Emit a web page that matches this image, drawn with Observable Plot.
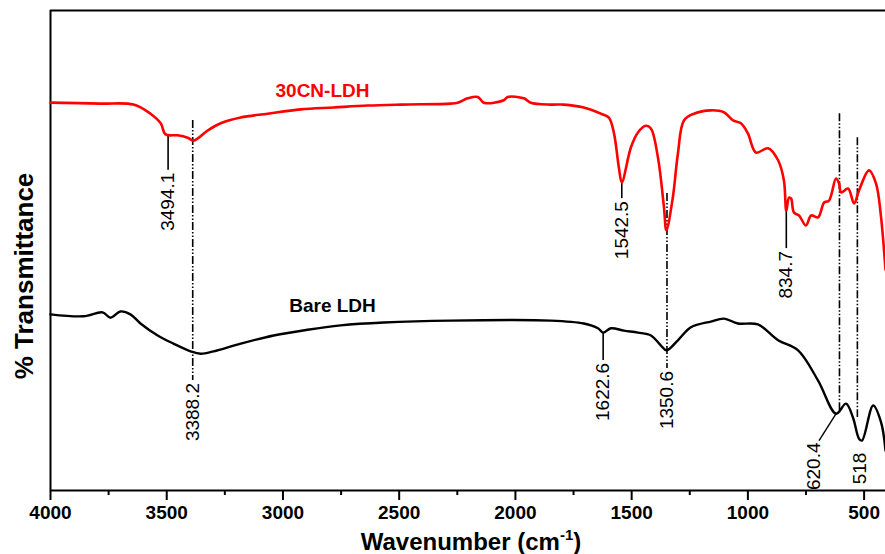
<!DOCTYPE html>
<html><head><meta charset="utf-8">
<script src="https://cdn.jsdelivr.net/npm/d3@7"></script>
<script src="https://cdn.jsdelivr.net/npm/@observablehq/plot@0.6"></script>
<style>body{margin:0;background:#fff} svg{display:block}</style>
</head><body><div id="chart"></div>
<script>
// 30CN-LDH spectrum (wavenumber, % transmittance, arbitrary offset)
const redWavenumber = [4000,3785,3643,3570,3526,3505,3453,3410,3384,3324,3268,3182,3066,2924,2782,2635,2493,2278,2248,2205,2162,2136,2050,2033,1964,1934,1848,1792,1706,1632,1598,1576,1555,1542.5,1503,1473,1439,1417,1387,1361,1350.6,1323,1301,1275,1232,1159,1103,1064,1030,1000,965,913,870,845,834.7,823,814,802,780,750,728,698,672,651,621,608,599,569,543,522,479,449,427,408];
const redTransmittance = [80.8,80.6,80.4,78.5,76.5,74.2,74.0,73.5,72.9,75.0,76.5,77.7,78.5,79.4,79.8,80.2,80.4,80.6,80.8,81.7,82.0,80.8,81.3,82.0,81.7,80.8,80.4,80.4,79.8,78.5,77.7,74.4,67.3,64.2,71.5,74.6,76.0,75.4,69.4,59.0,54.2,61.0,70.2,77.1,78.5,79.2,78.8,77.1,76.5,74.4,70.4,71.3,68.8,64.6,58.3,61.0,60.8,57.9,57.3,55.2,57.3,56.9,60.0,60.4,65.0,64.0,62.1,62.9,59.8,62.5,66.7,64.0,56.9,46];
// Bare LDH spectrum
const blackWavenumber = [4000,3858,3776,3742,3699,3656,3613,3539,3471,3397,3354,3298,3182,3040,2894,2752,2566,2278,1848,1706,1645,1622.6,1589,1533,1473,1417,1374,1350.6,1301,1245,1159,1103,1043,957,870,784,698,620.4,578,548,522,509,461,427,408];
const blackTransmittance = [36.7,36.3,37.1,36.0,37.3,36.7,34.8,32.3,30.6,29.0,28.5,29.0,30.6,32.3,33.5,34.4,35.0,35.4,35.4,34.8,33.8,32.9,33.8,33.3,32.9,32.3,30.2,29.2,31.3,34.0,35.2,35.8,34.8,34.6,31.3,29.2,22.9,16.0,18.1,15.2,10.8,10.4,17.7,14.2,8.3];

// Peak annotations with solid leader lines
const solidPeakLabels = ["3494.1","1542.5","834.7","1622.6"];
const solidPeakX = [3494.1,1542.5,834.7,1622.6];
const solidPeakTop = [74.0,64.2,58.3,32.9];
const solidPeakBottom = [66.7,60.8,50.4,27.1];
// Dash-dot reference lines
const dashLabels = ["3388.2","1350.6","",""];
const dashX = [3388.2,1348,606,529];
const dashTop = [77.1,61.9,78.5,73.5];
const dashBottom = [22.9,25.4,16.3,15.2];
// Labels with leader offset
const extraLabels = ["620.4","518"];
const extraLabelX = [714,518];
const extraLabelY = [10.0,7.9];
const connectorFrom = [620.4,16.0];
const connectorTo = [694,10.4];

const seriesNames = ["30CN-LDH","Bare LDH"];
const seriesColors = ["#ff0000","#000000"];
const seriesLabelX = [2830,2787];
const seriesLabelY = [83.3,38.5];

const xTicks = [4000,3500,3000,2500,2000,1500,1000,500];
const xMinorTicks = [3750,3250,2750,2250,1750,1250,750];

const red = redWavenumber.map((w,i)=>({w, t: redTransmittance[i]}));
const black = blackWavenumber.map((w,i)=>({w, t: blackTransmittance[i]}));
const solid = solidPeakLabels.map((l,i)=>({l, x: solidPeakX[i], y1: solidPeakTop[i], y2: solidPeakBottom[i]}));
const dash = dashX.map((x,i)=>({l: dashLabels[i], x, y1: dashTop[i], y2: dashBottom[i]}));
const gap = 0.5;
const textLabels = [
  ...solid.map(d=>({l:d.l, x:d.x, y:d.y2-gap})),
  ...dash.filter(d=>d.l).map(d=>({l:d.l, x:d.x, y:d.y2-gap})),
  ...extraLabels.map((l,i)=>({l, x: extraLabelX[i], y: extraLabelY[i]}))
];
const series = seriesNames.map((n,i)=>({n, c: seriesColors[i], x: seriesLabelX[i], y: seriesLabelY[i]}));

const font = "'Liberation Sans', Arial, sans-serif";
const plot = Plot.plot({
  width: 885, height: 554,
  marginLeft: 50, marginRight: 0, marginTop: 10, marginBottom: 64,
  style: {fontFamily: font, background: "#fff", color: "#000"},
  x: {domain: [4000, 408]},
  y: {domain: [0, 100], axis: null},
  marks: [
    Plot.ruleY([0, 100], {strokeWidth: 2}),
    Plot.ruleX([4000], {strokeWidth: 2}),
    Plot.axisX(xTicks, {tickSize: 10, strokeWidth: 2, tickPadding: 5, fontSize: 19, fontWeight: "bold", tickFormat: d => String(d), label: null}),
    Plot.axisX(xMinorTicks, {tickSize: 5, strokeWidth: 2, text: null, label: null}),
    Plot.ruleX(dash, {x: "x", y1: "y1", y2: "y2", strokeWidth: 1.6, strokeDasharray: "8,2,1.5,2,1.5,2"}),
    Plot.ruleX(solid, {x: "x", y1: "y1", y2: "y2", strokeWidth: 1.6}),
    Plot.link([0], {x1: () => connectorFrom[0], y1: () => connectorFrom[1], x2: () => connectorTo[0], y2: () => connectorTo[1], strokeWidth: 1.4}),
    Plot.line(black, {x: "w", y: "t", stroke: "#000", strokeWidth: 2.4, curve: "catmull-rom"}),
    Plot.line(red, {x: "w", y: "t", stroke: "#ff0000", strokeWidth: 2.6, curve: "catmull-rom"}),
    Plot.text(textLabels, {x: "x", y: "y", text: "l", rotate: -90, textAnchor: "end", fontSize: 19, fill: "#000"}),
    Plot.text(series, {x: "x", y: "y", text: "n", fill: "c", fontSize: 19, fontWeight: "bold"})
  ]
});
document.getElementById("chart").appendChild(plot);

const svg = d3.select(plot);
const xt = svg.append("text").attr("x", 471).attr("y", 550).attr("text-anchor", "middle")
  .attr("font-size", 24).attr("font-weight", "bold").attr("font-family", font).attr("fill", "#000");
xt.append("tspan").text("Wavenumber (cm");
xt.append("tspan").attr("font-size", 15).attr("dy", -10).text("-1");
xt.append("tspan").attr("dy", 10).text(")");
svg.append("text").attr("transform", "translate(33,276) rotate(-90)").attr("text-anchor", "middle")
  .attr("font-size", 26).attr("font-weight", "bold").attr("font-family", font).attr("fill", "#000")
  .text("% Transmittance");
</script></body></html>
